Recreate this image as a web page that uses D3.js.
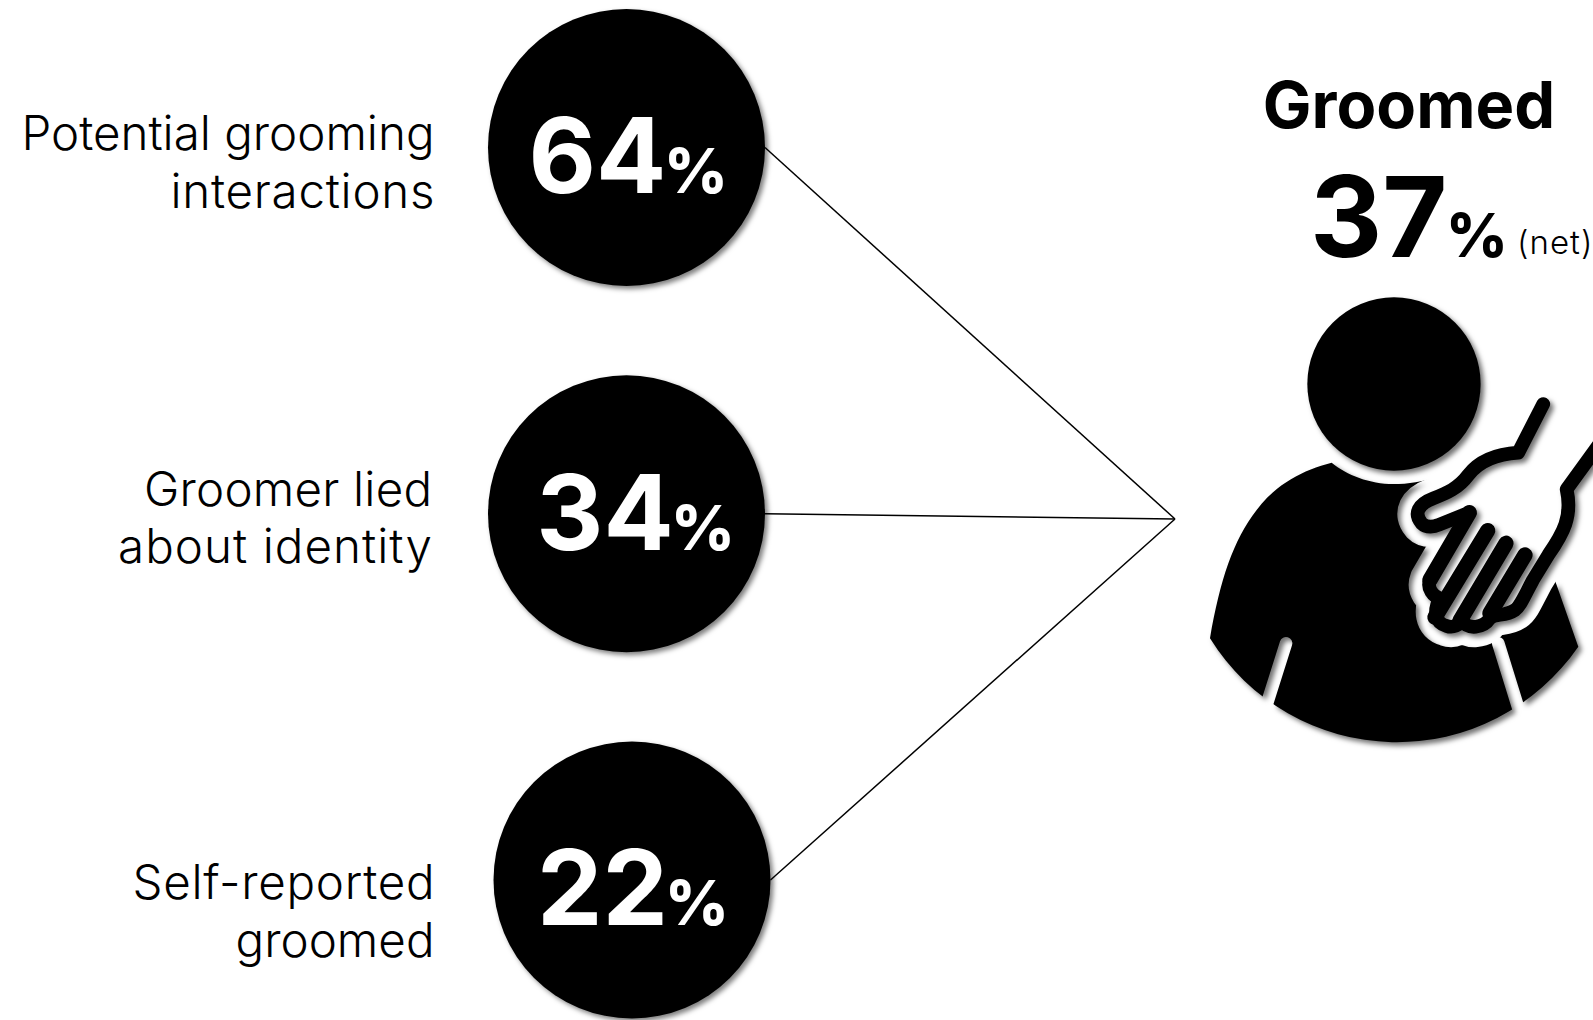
<!DOCTYPE html>
<html>
<head>
<meta charset="utf-8">
<script src="https://cdn.jsdelivr.net/npm/d3@7"></script>
<style>
html,body{margin:0;padding:0;background:#fff;overflow:hidden}
text{font-family:Inter,"Open Sans",sans-serif;fill:#000}
</style>
</head>
<body>
<svg id="chart" width="1593" height="1020"></svg>
<script>
// Measures feeding into the net "Groomed" figure
const measureLabels = [
  ["Potential grooming", "interactions"],
  ["Groomer lied", "about identity"],
  ["Self-reported", "groomed"]
];
const measureValues = [64, 34, 22];
const netTitle = "Groomed";
const netValue = 37;
const netNote = "(net)";

const W = 1593, H = 1020;
const svg = d3.select("#chart").attr("viewBox", [0, 0, W, H]);

// Three evenly stacked rows of discs
const rowY = d3.scalePoint().domain(d3.range(measureValues.length)).range([147.5, 880]);
const discX = [626.5, 626.5, 632];
const discR = 138.5;
const labelRight = [434.5, 432, 434.5];
const labelBase = [150, 505.5, 899];
const labelWidths = [[413, 264], [288, 314], [302, 199]];
const numMid = [597.5, 605, 602.5];
const numBase = [193, 550, 925];
const pctStart = [664, 671, 665];
const hub = {x: 1175, y: 519};

const defs = svg.append("defs");
const addShadow = (id, off, blur, alpha) => defs.append("filter").attr("id", id)
  .attr("x", "-10%").attr("y", "-10%").attr("width", "125%").attr("height", "125%")
  .append("feDropShadow").attr("dx", off).attr("dy", off).attr("stdDeviation", blur)
  .attr("flood-color", "#000").attr("flood-opacity", alpha);
addShadow("soft", 3, 2.4, 0.5);
addShadow("softIcon", 3.5, 2.8, 0.55);

// Connector lines run from each disc to the common hub
svg.append("g").selectAll("line").data(measureValues).join("line")
  .attr("x1", (d, i) => discX[i] + discR)
  .attr("y1", (d, i) => rowY(i))
  .attr("x2", hub.x).attr("y2", hub.y)
  .attr("stroke", "#000").attr("stroke-width", 1.5);

const rows = svg.append("g").selectAll("g").data(measureValues).join("g");
rows.append("circle")
  .attr("cx", (d, i) => discX[i]).attr("cy", (d, i) => rowY(i)).attr("r", discR)
  .attr("fill", "#000").attr("filter", "url(#soft)");

// Big number with a smaller percent sign, both bold and white
rows.append("text")
  .attr("text-anchor", "middle")
  .attr("x", (d, i) => numMid[i]).attr("y", (d, i) => numBase[i])
  .attr("font-size", 104).attr("font-weight", 700)
  .style("fill", "#fff").text(d => d);
rows.append("text")
  .attr("x", (d, i) => pctStart[i]).attr("y", (d, i) => numBase[i])
  .attr("font-size", 62).attr("font-weight", 800)
  .style("fill", "#fff").text("%");

// Right-aligned two-line labels
rows.each(function (d, i) {
  const g = d3.select(this);
  measureLabels[i].forEach((line, j) => {
    g.append("text")
      .attr("x", labelRight[i])
      .attr("y", labelBase[i] + j * 57.5)
      .attr("text-anchor", "end")
      .attr("font-size", 47.5).attr("font-weight", 350)
      .attr("textLength", labelWidths[i][j]).attr("lengthAdjust", "spacing")
      .text(line);
  });
});

// Net figure heading
svg.append("text").attr("x", 1409).attr("y", 128).attr("text-anchor", "middle")
  .attr("font-size", 65).attr("font-weight", 700).text(netTitle);
svg.append("text").attr("x", 1310).attr("y", 257)
  .attr("font-size", 112).attr("font-weight", 700).text(netValue);
svg.append("text").attr("x", 1446).attr("y", 257)
  .attr("font-size", 60).attr("font-weight", 800).text("%");
svg.append("text").attr("x", 1517).attr("y", 254).attr("font-size", 33).attr("font-weight", 300)
  .attr("letter-spacing", 1).text(netNote);

// Pictogram of a person with a hand on the shoulder; geometry in 1/3 px units
const bodyOutline = "M60,1075 C90,900 130,780 200,690 C260,610 340,570 425,548 C470,585 540,612 610,612 C655,612 700,605 740,590 L1000,650 L1100,915 L1165,1100 A660,660 0 0 1 60,1075 Z";
const handOutline = "M490,72 L415,218 C350,222 300,240 265,285 C235,325 200,340 160,355 C115,372 100,400 125,430 C140,445 165,440 175,435 L268,398 L150,600 C140,625 160,650 180,655 C160,690 165,730 200,738 C220,745 238,735 245,722 C265,750 310,745 330,715 C345,700 375,710 405,690 C420,680 430,655 459,600 L505,525 C550,460 578,410 560,328 L660,190";
const fingerLines = ["M268,398 L150,600", "M323,452 L165,712", "M378,490 L240,722", "M435,525 L330,700"];
const sleeveSlits = ["M288,1090 L225,1290", "M925,1090 L990,1300"];

const mask = defs.append("mask").attr("id", "cut").attr("maskUnits", "userSpaceOnUse")
  .attr("x", 0).attr("y", 0).attr("width", W).attr("height", H);
const maskG = mask.append("g").attr("transform", "translate(1190,280) scale(0.3333)");
maskG.append("rect").attr("x", -100).attr("y", -100).attr("width", 1500).attr("height", 1700).attr("fill", "#fff");
maskG.selectAll("path.slit").data(sleeveSlits).join("path").attr("class", "slit")
  .attr("d", d => d).attr("fill", "none").attr("stroke", "#000").attr("stroke-width", 38).attr("stroke-linecap", "round");
maskG.append("path").attr("transform", "translate(570,300)").attr("d", handOutline)
  .attr("fill", "#000").attr("stroke", "#000").attr("stroke-width", 122).attr("stroke-linejoin", "round");

const icon = svg.append("g").attr("filter", "url(#softIcon)");
icon.append("g").attr("mask", "url(#cut)").append("g").attr("transform", "translate(1190,280) scale(0.3333)")
  .append("path").attr("d", bodyOutline).attr("fill", "#000");
const person = icon.append("g").attr("transform", "translate(1190,280) scale(0.3333)");
person.append("circle").attr("cx", 612).attr("cy", 312).attr("r", 260).attr("fill", "#000");
const hand = person.append("g").attr("transform", "translate(570,300)")
  .attr("fill", "none").attr("stroke", "#000").attr("stroke-width", 41)
  .attr("stroke-linecap", "round").attr("stroke-linejoin", "round");
hand.append("path").attr("d", handOutline);
hand.selectAll("path.finger").data(fingerLines).join("path").attr("class", "finger")
  .attr("stroke-width", 46).attr("d", d => d);
</script>
</body>
</html>
